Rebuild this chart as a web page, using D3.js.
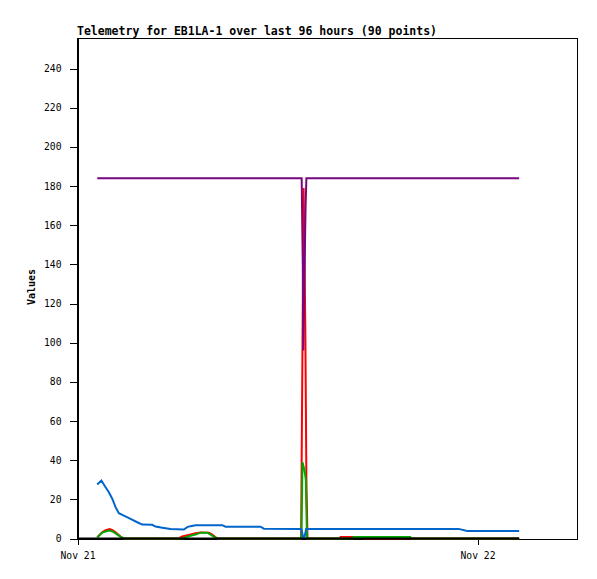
<!DOCTYPE html>
<html>
<head>
<meta charset="utf-8">
<script src="https://cdn.jsdelivr.net/npm/d3@7/dist/d3.min.js"></script>
<style>
  html, body { margin: 0; padding: 0; background: #fff; }
  svg { display: block; }
  .axis text { font-family: "DejaVu Sans Mono", monospace; font-size: 9.7px; fill: #000; }
  .axis path, .axis line { stroke: #000; shape-rendering: crispEdges; }
</style>
</head>
<body>
<svg id="chart" width="597" height="579"></svg>
<script>
const titleText = "Telemetry for EB1LA-1 over last 96 hours (90 points)";
const yLabel = "Values";
const xDomain = ["2023-11-21T00:00", "2023-11-22T06:00"];
const yTicks = [0, 20, 40, 60, 80, 100, 120, 140, 160, 180, 200, 220, 240];

const redSeries = [
  ["2023-11-21T01:11", 0.7], ["2023-11-21T01:29", 3.2], ["2023-11-21T01:41", 4.2],
  ["2023-11-21T01:56", 4.8], ["2023-11-21T02:06", 4.3], ["2023-11-21T02:17", 3.2],
  ["2023-11-21T02:35", 1.0], ["2023-11-21T02:46", 0], ["2023-11-21T06:04", 0],
  ["2023-11-21T06:17", 1.0], ["2023-11-21T06:47", 2.0], ["2023-11-21T07:05", 2.7],
  ["2023-11-21T07:23", 3.1], ["2023-11-21T07:53", 3.0], ["2023-11-21T08:05", 2.0],
  ["2023-11-21T08:17", 0.6], ["2023-11-21T08:28", 0], ["2023-11-21T13:25", 0],
  ["2023-11-21T13:34", 179], ["2023-11-21T13:40", 110], ["2023-11-21T13:44", 30],
  ["2023-11-21T13:48", 0], ["2023-11-21T15:45", 0], ["2023-11-21T15:47", 0.8],
  ["2023-11-21T17:06", 0.8], ["2023-11-21T17:10", 0], ["2023-11-22T02:30", 0]
];

const greenSeries = [
  ["2023-11-21T01:11", 0.5], ["2023-11-21T01:29", 3.0], ["2023-11-21T01:41", 3.6],
  ["2023-11-21T01:56", 4.1], ["2023-11-21T02:06", 3.6], ["2023-11-21T02:17", 2.6],
  ["2023-11-21T02:35", 0.8], ["2023-11-21T02:49", 0], ["2023-11-21T06:20", 0],
  ["2023-11-21T06:29", 0.7], ["2023-11-21T06:47", 1.4], ["2023-11-21T07:05", 2.0],
  ["2023-11-21T07:23", 3.0], ["2023-11-21T07:47", 3.0], ["2023-11-21T07:59", 2.0],
  ["2023-11-21T08:13", 0.7], ["2023-11-21T08:24", 0], ["2023-11-21T13:26", 0],
  ["2023-11-21T13:30", 39], ["2023-11-21T13:37", 35], ["2023-11-21T13:42", 30],
  ["2023-11-21T13:46", 0], ["2023-11-21T16:32", 0], ["2023-11-21T16:34", 0.8],
  ["2023-11-21T19:58", 0.8], ["2023-11-21T20:02", 0], ["2023-11-22T02:30", 0]
];

const blueSeries = [
  ["2023-11-21T01:11", 27.6], ["2023-11-21T01:26", 29.6], ["2023-11-21T01:41", 26.2],
  ["2023-11-21T01:53", 23.6], ["2023-11-21T02:05", 20.3], ["2023-11-21T02:17", 16.0],
  ["2023-11-21T02:29", 12.9], ["2023-11-21T02:47", 11.7], ["2023-11-21T03:11", 10.0],
  ["2023-11-21T03:35", 8.3], ["2023-11-21T03:53", 7.1], ["2023-11-21T04:29", 7.0],
  ["2023-11-21T04:41", 6.1], ["2023-11-21T05:05", 5.5], ["2023-11-21T05:35", 4.8],
  ["2023-11-21T06:23", 4.6], ["2023-11-21T06:35", 5.8], ["2023-11-21T06:47", 6.3],
  ["2023-11-21T07:05", 6.8], ["2023-11-21T08:41", 6.8], ["2023-11-21T08:53", 6.0],
  ["2023-11-21T10:59", 6.0], ["2023-11-21T11:11", 5.0], ["2023-11-21T13:26", 4.9],
  ["2023-11-21T13:32", 0.8], ["2023-11-21T13:37", 0.5], ["2023-11-21T13:43", 4.9],
  ["2023-11-21T22:52", 4.9], ["2023-11-21T23:23", 3.8], ["2023-11-22T02:30", 3.8]
];

const purpleSeries = [
  ["2023-11-21T01:11", 184], ["2023-11-21T13:27", 184], ["2023-11-21T13:31", 140],
  ["2023-11-21T13:33", 96], ["2023-11-21T13:41", 169], ["2023-11-21T13:44", 184],
  ["2023-11-22T02:30", 184]
];

const blackSeries = [
  ["2023-11-20T20:00", 0], ["2023-11-22T02:30", 0]
];

const seriesList = [
  { name: "red", data: redSeries, color: "#ff0000" },
  { name: "green", data: greenSeries, color: "#00a800" },
  { name: "blue", data: blueSeries, color: "#0066cc" },
  { name: "purple", data: purpleSeries, color: "#77077f" },
  { name: "black", data: blackSeries, color: "#000000" }
];

const parse = d3.timeParse("%Y-%m-%dT%H:%M");
const margin = { left: 77, top: 38, right: 20, bottom: 41 };
const W = 597, H = 579;
const iw = W - margin.left - margin.right;
const ih = H - margin.top - margin.bottom;

const svg = d3.select("#chart");
const x = d3.scaleTime().domain(xDomain.map(parse)).range([0, iw]);
const y = d3.scaleLinear().domain([0, 255.32]).range([ih, 0]);

const g = svg.append("g").attr("transform", `translate(${margin.left + 0.5},${margin.top + 0.5})`);

svg.append("defs").append("clipPath").attr("id", "clip")
  .append("rect").attr("x", 0).attr("y", -2).attr("width", iw).attr("height", ih + 4);

// frame
g.append("path")
  .attr("d", `M0,${ih}V0H${iw}V${ih}`)
  .attr("fill", "none").attr("stroke", "#000").attr("shape-rendering", "crispEdges");

g.append("g").attr("class", "axis")
  .call(d3.axisLeft(y).tickValues(yTicks).tickSize(8).tickSizeOuter(0).tickPadding(8)
    .tickFormat(d3.format("d")));

g.append("g").attr("class", "axis").attr("transform", `translate(0,${ih})`)
  .call(d3.axisBottom(x).ticks(d3.timeDay.every(1)).tickSize(6).tickSizeOuter(0).tickPadding(8)
    .tickFormat(d3.timeFormat("%b %d")));

const line = d3.line().x(d => x(parse(d[0]))).y(d => y(d[1]));
const plot = g.append("g").attr("clip-path", "url(#clip)");
seriesList.forEach(s => {
  plot.append("path").datum(s.data)
    .attr("d", line)
    .attr("fill", "none")
    .attr("stroke", s.color)
    .attr("stroke-width", 2)
    .attr("stroke-linejoin", "miter");
});

svg.append("text")
  .attr("x", margin.left).attr("y", 35)
  .attr("font-family", "DejaVu Sans Mono, monospace")
  .attr("font-weight", "bold").attr("font-size", "11.5px")
  .text(titleText);

svg.append("text")
  .attr("transform", `translate(35,287) rotate(-90)`)
  .attr("text-anchor", "middle")
  .attr("font-family", "DejaVu Sans Mono, monospace")
  .attr("font-weight", "bold").attr("font-size", "10px")
  .text(yLabel);
</script>
</body>
</html>
